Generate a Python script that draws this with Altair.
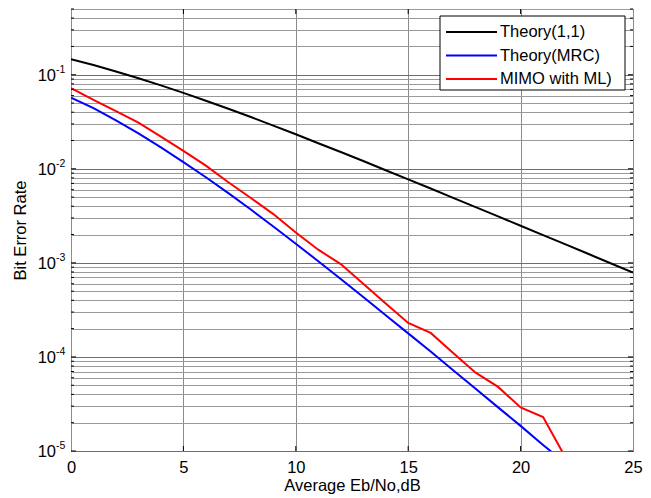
import altair as alt
import pandas as pd

# ---------------- data ----------------
ebno_11 = list(range(0, 26))
theory_11 = [0.1464, 0.1267, 0.1085, 0.0919, 0.0771, 0.0642, 0.0530, 0.0435,
             0.0355, 0.0288, 0.0233, 0.0187, 0.0151, 0.0121, 0.00966, 0.00772,
             0.00617, 0.00491, 0.00392, 0.00312, 0.00248, 0.00197, 0.00157,
             0.00125, 0.00099, 0.00079]

ebno_mrc = list(range(0, 23))
theory_mrc = [0.0570, 0.0441, 0.0328, 0.0238, 0.0169, 0.0118, 0.00813, 0.00551,
              0.00369, 0.00244, 0.00160, 0.00104, 0.000674, 0.000434, 0.000278,
              0.000178, 0.000114, 0.0000721, 0.0000460, 0.0000291, 0.0000185,
              0.0000116, 0.0000074]

ebno_ml = list(range(0, 23))
mimo_ml = [0.072, 0.054, 0.041, 0.031, 0.022, 0.0155, 0.0108, 0.0072, 0.0049,
           0.0033, 0.0021, 0.00138, 0.00097, 0.00060, 0.00037, 0.00023, 0.00018,
           0.00011, 0.000068, 0.000048, 0.000029, 0.000023, 0.0000085]

series_names = ["Theory(1,1)", "Theory(MRC)", "MIMO with ML)"]
series_colors = ["#000000", "#0000ff", "#ff0000"]

x_ticks = [0, 5, 10, 15, 20, 25]
x_inner_ticks = [5, 10, 15, 20]
decades = [1e-1, 1e-2, 1e-3, 1e-4, 1e-5]
decade_exps = ["-1", "-2", "-3", "-4", "-5"]
minor_mult = [2, 3, 4, 5, 6, 7, 8, 9]

x_title = "Average Eb/No,dB"
y_title = "Bit Error Rate"

# ---------------- build tables ----------------
rows = []
for xs, ys, name in [(ebno_11, theory_11, series_names[0]),
                     (ebno_mrc, theory_mrc, series_names[1]),
                     (ebno_ml, mimo_ml, series_names[2])]:
    for xv, yv in zip(xs, ys):
        rows.append({"ebno": xv, "ber": yv, "series": name})
df = pd.DataFrame(rows)

minor_vals = [m * d for d in decades for m in minor_mult if m * d <= 0.5]
grid_vals = sorted(decades + minor_vals)
dec_df = pd.DataFrame({"v": decades, "e": decade_exps})
minor_df = pd.DataFrame({"v": minor_vals})
xt_df = pd.DataFrame({"t": x_inner_ticks})
one = pd.DataFrame({"a": [0]})

W, H = 562, 442
FONT = "Liberation Sans"
FS = 16.5

xscale = alt.Scale(domain=[0, 25], nice=False, zero=False)
yscale = alt.Scale(type="log", domain=[1e-5, 0.5], nice=False)

xaxis = alt.Axis(values=x_ticks, grid=True, gridColor="#8c8c8c", gridWidth=1,
                 domain=False, ticks=False, labelFontSize=FS, labelFont=FONT,
                 labelColor="black", labelPadding=21, labelBaseline="alphabetic",
                 title=x_title, titleFontSize=FS, titleFont=FONT,
                 titleFontWeight="normal", titleColor="black",
                 titleBaseline="alphabetic", titleY=39, titleX=W / 2,
                 labelFlush=False)
yaxis = alt.Axis(values=grid_vals, grid=True,
                 gridColor={"condition": {"test": "abs(log(datum.value)/LN10 - round(log(datum.value)/LN10)) < 0.000001",
                                          "value": "#6e6e6e"},
                            "value": "#9a9a9a"},
                 gridWidth=1, domain=False, ticks=False, labels=False,
                 title=y_title, titleFontSize=FS, titleFont=FONT,
                 titleFontWeight="normal", titleColor="black",
                 titleX=-51, titleY=H / 2, titleAngle=270,
                 titleBaseline="middle", titleAlign="center")

lines = alt.Chart(df).mark_line(strokeWidth=2, clip=True).encode(
    x=alt.X("ebno:Q", scale=xscale, axis=xaxis),
    y=alt.Y("ber:Q", scale=yscale, axis=yaxis),
    color=alt.Color("series:N", scale=alt.Scale(domain=series_names, range=series_colors),
                    legend=None),
)

# y tick labels 10^k
lab10 = alt.Chart(dec_df).mark_text(align="right", baseline="middle", fontSize=FS,
                                    font=FONT, color="black", dy=1).encode(
    x=alt.value(-15), y=alt.Y("v:Q", scale=yscale, axis=yaxis), text=alt.value("10"))
labexp = alt.Chart(dec_df).mark_text(align="left", baseline="middle", fontSize=10.5,
                                     font=FONT, color="black", dy=-5).encode(
    x=alt.value(-15), y=alt.Y("v:Q", scale=yscale, axis=yaxis), text="e:N")

# inward ticks on all four sides
tick_layers = []
for dfx, ln in [(dec_df, 5), (minor_df, 3)]:
    tick_layers.append(alt.Chart(dfx).mark_rule(color="black", strokeWidth=1).encode(
        x=alt.value(0), x2=alt.value(ln), y=alt.Y("v:Q", scale=yscale, axis=yaxis)))
    tick_layers.append(alt.Chart(dfx).mark_rule(color="black", strokeWidth=1).encode(
        x=alt.value(W), x2=alt.value(W - ln), y=alt.Y("v:Q", scale=yscale, axis=yaxis)))
tick_layers.append(alt.Chart(xt_df).mark_rule(color="black", strokeWidth=1).encode(
    x=alt.X("t:Q", scale=xscale, axis=xaxis), y=alt.value(H), y2=alt.value(H - 5)))
tick_layers.append(alt.Chart(xt_df).mark_rule(color="black", strokeWidth=1).encode(
    x=alt.X("t:Q", scale=xscale, axis=xaxis), y=alt.value(0), y2=alt.value(5)))

# legend box
leg_layers = [alt.Chart(one).mark_rect(fill="white", stroke="black", strokeWidth=1).encode(
    x=alt.value(369), x2=alt.value(554), y=alt.value(7), y2=alt.value(81))]
for i, (name, col) in enumerate(zip(series_names, series_colors)):
    yy = 23 + 23.5 * i
    leg_layers.append(alt.Chart(one).mark_rule(color=col, strokeWidth=2).encode(
        x=alt.value(375), x2=alt.value(426), y=alt.value(yy)))
    leg_layers.append(alt.Chart(one).mark_text(align="left", baseline="middle", fontSize=FS,
                                               font=FONT, color="black").encode(
        x=alt.value(429), y=alt.value(yy), text=alt.value(name)))

chart = alt.layer(lines, lab10, labexp, *tick_layers, *leg_layers).properties(
    width=W, height=H,
    autosize=alt.AutoSizeParams(type="none"),
    padding={"left": 63, "top": 1, "right": 10, "bottom": 47},
    background="white",
).configure(font=FONT).configure_view(stroke="black", strokeWidth=1)

chart.save("out.html", embed_options={"renderer": "svg", "actions": False})
